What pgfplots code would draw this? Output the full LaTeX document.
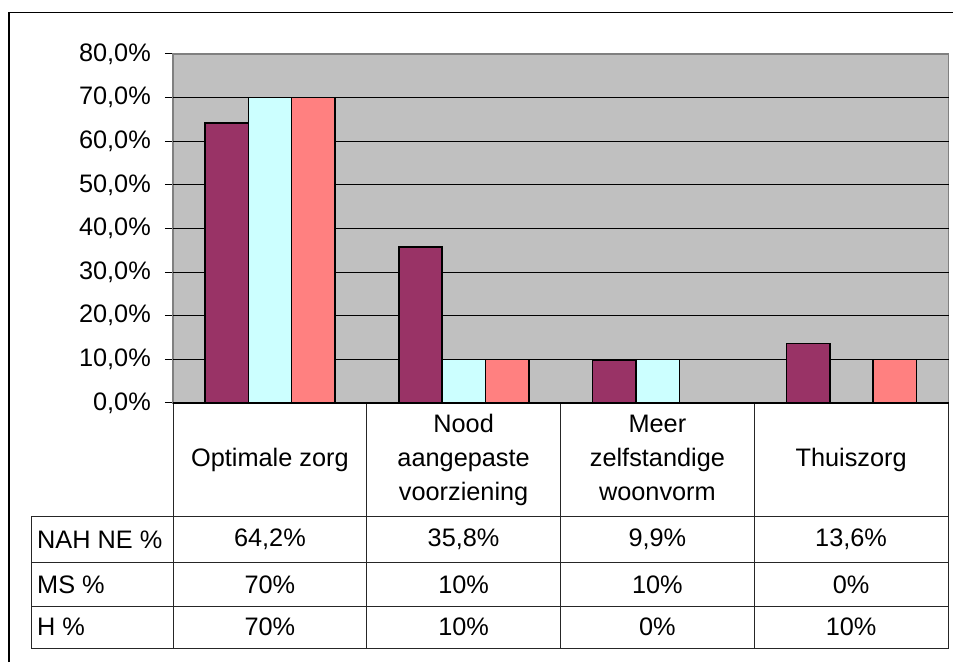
\documentclass[border=0pt]{standalone}
\usepackage{pgfplots}
\pgfplotsset{compat=1.18}
\usepackage{fontspec}
\setmainfont{Liberation Sans}
\definecolor{nah}{HTML}{993366}
\definecolor{ms}{HTML}{CCFFFF}
\definecolor{hh}{HTML}{FF8080}
\definecolor{plotbg}{HTML}{C0C0C0}
\newcommand{\cf}{\fontsize{25.3}{34}\selectfont}
\begin{document}
\begin{tikzpicture}[x=1pt,y=1pt]
\useasboundingbox (0,0) rectangle (953,662);
\begin{axis}[
 at={(173pt,259pt)}, anchor=south west, scale only axis,
 width=775.5pt, height=349pt,
 xmin=-0.5, xmax=3.5, ymin=0, ymax=80,
 xtick=\empty,
 ytick={0,10,...,80},
 extra y ticks={10,20,...,70}, extra y tick labels={},
 extra y tick style={grid=major, major tick length=0pt},
 major grid style={black, line width=1pt},
 tick align=outside, major tick length=8pt, tick style={black, line width=1pt},
 ytick pos=left,
 /pgf/number format/assume math mode=true,
 yticklabel={\pgfmathprintnumber[fixed,fixed zerofill,precision=1,use comma]{\tick}\%},
 yticklabel style={font=\cf, anchor=east, inner sep=0pt, xshift=-14pt},
 axis line style={draw=gray, line width=1.3pt},
 axis background/.style={fill=plotbg},
 ybar=0pt, bar width=43.3pt,
 every axis plot/.append style={draw=black, line width=1.5pt},
]
\addplot[fill=nah, bar shift=-43.3pt] coordinates {(0,64.2) (1,35.8) (2,9.9) (3,13.6)};
\addplot[fill=ms, bar shift=0pt] coordinates {(0,70) (1,10) (2,10) (3,0)};
\addplot[fill=hh, bar shift=43.3pt] coordinates {(0,70) (1,10) (2,0) (3,10)};
\end{axis}
% data table
\begin{scope}[line width=1pt, draw=black!85]
\foreach \yy in {145.3,99.3,56,14} \draw (31,\yy) -- (948.5,\yy);
\draw (31,14) -- (31,145.3);
\foreach \xx in {173,366.75,560.5,754.25,948.5} \draw (\xx,14) -- (\xx,259);
\end{scope}
\draw[black, line width=2pt] (173,259) -- (948.5,259);
\begin{scope}[every node/.style={font=\cf, align=center, inner sep=0pt}]
\node at (269.9,202) {Optimale zorg};
\node at (463.6,202) {\strut Nood\\aangepaste\\voorziening\strut};
\node at (657.4,202) {\strut Meer\\zelfstandige\\woonvorm\strut};
\node at (851.1,202) {Thuiszorg};
\node[anchor=west] at (37,122.3) {NAH NE \%};
\node[anchor=west] at (37,77.7) {MS \%};
\node[anchor=west] at (37,35) {H \%};
\node at (269.9,122.3) {64,2\%};
\node at (463.6,122.3) {35,8\%};
\node at (657.4,122.3) {9,9\%};
\node at (851.1,122.3) {13,6\%};
\node at (269.9,77.7) {70\%};
\node at (463.6,77.7) {10\%};
\node at (657.4,77.7) {10\%};
\node at (851.1,77.7) {0\%};
\node at (269.9,35) {70\%};
\node at (463.6,35) {10\%};
\node at (657.4,35) {0\%};
\node at (851.1,35) {10\%};
\end{scope}
\draw[black, line width=1.3pt] (9,0) -- (9,649.3) -- (953,649.3);
\end{tikzpicture}
\end{document}
